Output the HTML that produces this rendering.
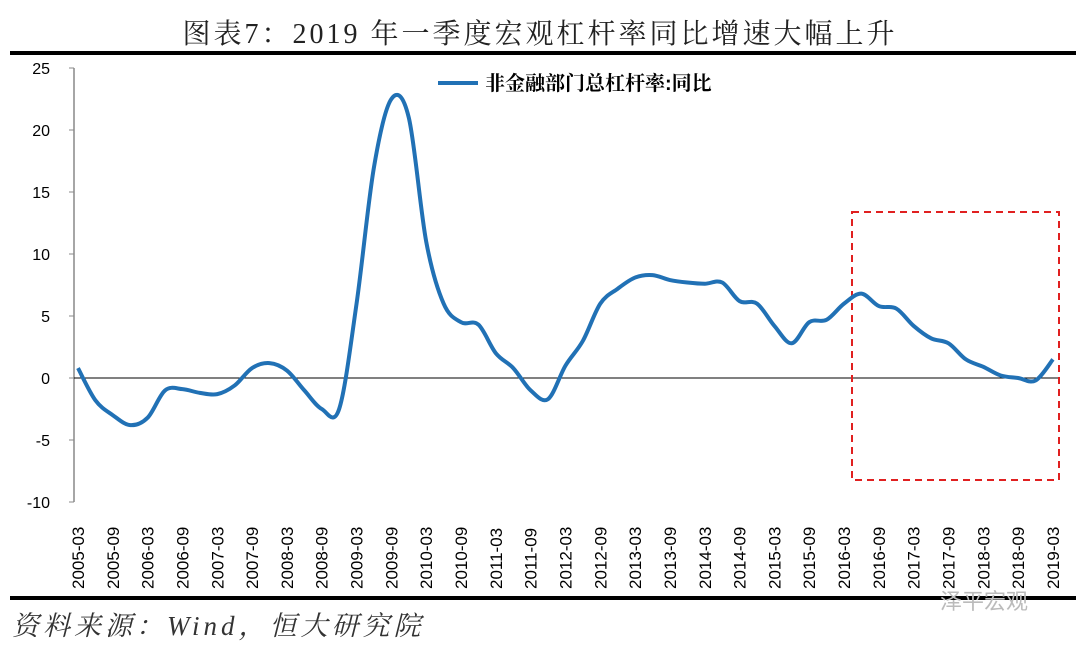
<!DOCTYPE html><html><head><meta charset="utf-8"><style>
body{margin:0;background:#fff;width:1080px;height:648px;overflow:hidden}
</style></head><body>
<svg id="s" width="1080" height="648" xmlns="http://www.w3.org/2000/svg">
<text x="540" y="43" text-anchor="middle" font-family="Liberation Serif,'Noto Serif CJK SC',serif" font-size="28" letter-spacing="3" fill="#222">图表7：2019 年一季度宏观杠杆率同比增速大幅上升</text>
<rect x="10" y="51" width="1066" height="4" fill="#000"/>
<rect x="10" y="596" width="1066" height="4" fill="#000"/>
<text x="12" y="635" font-family="Liberation Serif,'Noto Serif CJK SC',serif" font-size="27" font-style="italic" letter-spacing="4" fill="#333">资料来源：Wind，恒大研究院</text>
<text x="940" y="609" font-family="Liberation Sans,'Noto Sans CJK SC',sans-serif" font-size="22" fill="#bbb">泽平宏观</text>
<g id="ax" font-family="Liberation Sans,sans-serif" font-size="16" fill="#000"></g>
<rect x="852" y="212" width="207" height="268" fill="none" stroke="#e02020" stroke-width="2" stroke-dasharray="7,5"/>
<line x1="438" y1="83" x2="478" y2="83" stroke="#2171b5" stroke-width="4"/>
<text x="485" y="90" font-family="Liberation Sans,'Noto Serif CJK SC',serif" font-weight="bold" font-size="20" fill="#000">非金融部门总杠杆率:同比</text>
<path id="p" fill="none" stroke="#2171b5" stroke-width="4" stroke-linejoin="round"/>
</svg>
<script>
var ax=document.getElementById('ax'),h='';
function Y(v){return 378-12.4*v}
h+='<line x1="74" y1="68" x2="74" y2="502" stroke="#888" stroke-width="1.5"/>';
h+='<line x1="74" y1="378" x2="1060" y2="378" stroke="#000" stroke-width="1"/>';
for(var v=-10;v<=25;v+=5){h+='<line x1="69" y1="'+Y(v)+'" x2="74" y2="'+Y(v)+'" stroke="#888"/>';h+='<text x="50" y="'+(Y(v)+6)+'" text-anchor="end">'+v+'</text>';}
for(var i=0;i<29;i++){var x=78+i*34.82,yr=2005+Math.floor(i/2),m=i%2?'09':'03';h+='<text font-size="17" transform="translate('+(x+6)+',589) rotate(-90)">'+yr+'-'+m+'</text>';}
ax.innerHTML=h;
var d=[0.8,-1.8,-3,-3.8,-3.2,-1,-0.9,-1.2,-1.3,-0.6,0.8,1.2,0.6,-1,-2.5,-2.5,6,17,22.5,21,11,6,4.5,4.3,2,0.8,-1,-1.7,1,3,6,7.2,8.1,8.3,7.9,7.7,7.6,7.7,6.2,6,4.2,2.8,4.5,4.7,6,6.8,5.8,5.6,4.2,3.2,2.8,1.5,0.9,0.2,0,-0.2,1.5];
var P=d.map(function(v,i){return[78+i*17.41,Y(v)]});
var s='M'+P[0][0]+','+P[0][1];
for(var i=0;i<P.length-1;i++){var p0=P[i-1]||P[i],p1=P[i],p2=P[i+1],p3=P[i+2]||p2;
s+=' C'+(p1[0]+(p2[0]-p0[0])/6)+','+(p1[1]+(p2[1]-p0[1])/6)+' '+(p2[0]-(p3[0]-p1[0])/6)+','+(p2[1]-(p3[1]-p1[1])/6)+' '+p2[0]+','+p2[1];}
document.getElementById('p').setAttribute('d',s);
</script>
</body></html>
